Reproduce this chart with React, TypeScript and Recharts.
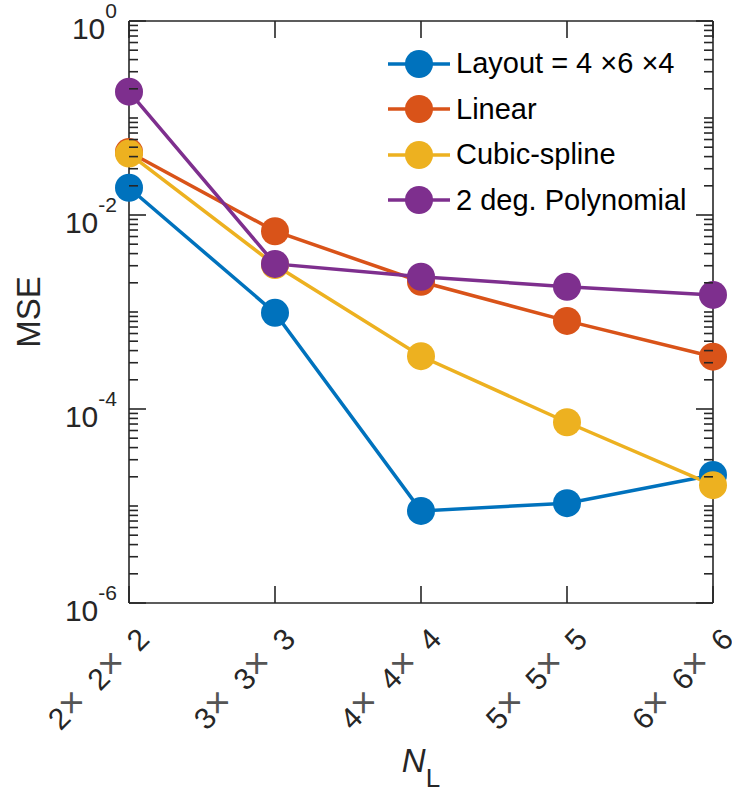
import { LineChart, Line, XAxis, YAxis, Legend, Label } from 'recharts'

const categories = ['2×2×2', '3×3×3', '4×4×4', '5×5×5', '6×6×6']

const seriesNames = ['Layout = 4 ×6 ×4', 'Linear', 'Cubic-spline', '2 deg. Polynomial']
const seriesColors = ['#0072BD', '#D95319', '#EDB120', '#7E2F8E']

const layoutMse = [0.0191, 9.8e-4, 8.9e-6, 1.07e-5, 2.09e-5]
const linearMse = [0.0446, 6.8e-3, 2.05e-3, 8.1e-4, 3.46e-4]
const cubicMse = [0.043, 3.05e-3, 3.5e-4, 7.3e-5, 1.64e-5]
const polyMse = [0.187, 3.13e-3, 2.31e-3, 1.82e-3, 1.5e-3]

const majorTicks = [1, 1e-2, 1e-4, 1e-6]
const majorExponents = ['0', '-2', '-4', '-6']

// minor ticks: every mantissa in every decade, plus the unlabeled odd decades
const minorTicks: number[] = []
for (let d = -6; d < 0; d++) {
	for (let k = 1; k <= 9; k++) {
		if (k === 1 && d % 2 === 0) continue
		minorTicks.push(k * Math.pow(10, d))
	}
}
const yTicks = [...majorTicks, ...minorTicks]

const data = categories.map((name, i) => ({
	name,
	layout: layoutMse[i],
	linear: linearMse[i],
	cubic: cubicMse[i],
	poly: polyMse[i],
}))
const seriesKeys = ['layout', 'linear', 'cubic', 'poly']

const AXIS = '#262626'
const FONT = '"Liberation Sans", Arial, Helvetica, sans-serif'

const tickLen = (v: number) => (majorTicks.includes(v) ? 17 : 9)

const LeftTick = (props: any) => {
	const { x, y, payload } = props
	const idx = majorTicks.indexOf(payload.value)
	return (
		<g>
			<line x1={x} x2={x + tickLen(payload.value)} y1={y} y2={y} stroke={AXIS} strokeWidth={1.6} />
			{idx >= 0 && (
				<text x={x - 12} y={y + 18} textAnchor='end' fill={AXIS} fontSize={30}>
					<tspan>10</tspan>
					<tspan dy={-21} fontSize={21}>{majorExponents[idx]}</tspan>
				</text>
			)}
		</g>
	)
}

const RightTick = (props: any) => {
	const { x, y, payload } = props
	return <line x1={x} x2={x - tickLen(payload.value)} y1={y} y2={y} stroke={AXIS} strokeWidth={1.6} />
}

const BottomTick = (props: any) => {
	const { x, y, payload } = props
	const parts = String(payload.value).split('×')
	const ax = x + 22
	const ay = y + 38
	return (
		<g>
			<line x1={x} x2={x} y1={y} y2={y - 17} stroke={AXIS} strokeWidth={1.6} />
			<text
				x={ax}
				y={ay}
				transform={`rotate(-45, ${ax}, ${ay})`}
				textAnchor='end'
				fill={AXIS}
				fontSize={30}
				style={{ whiteSpace: 'pre' }}
			>
				{parts.map((p, i) => (
					<tspan key={i}>
						{p}
						{i < parts.length - 1 && (
							<>
								<tspan fontSize={38} fill='#555'>
									×
								</tspan>
								<tspan>{'\u00A0\u00A0'}</tspan>
							</>
						)}
					</tspan>
				))}
			</text>
		</g>
	)
}

const TopTick = (props: any) => {
	const { x, y } = props
	return <line x1={x} x2={x} y1={y} y2={y + 17} stroke={AXIS} strokeWidth={1.6} />
}

// legend drawn from the series arrays so it keeps the plotting order
const renderLegend = () => (
	<div>
		{seriesNames.map((name, i) => (
			<div key={name} style={{ display: 'flex', alignItems: 'center', height: 45.5 }}>
				<svg width={64} height={32}>
					<line x1={0} x2={62} y1={16} y2={16} stroke={seriesColors[i]} strokeWidth={3.5} />
					<circle cx={31} cy={16} r={14} fill={seriesColors[i]} />
				</svg>
				<span style={{ marginLeft: 4, fontSize: 29, color: '#000', fontFamily: FONT, whiteSpace: 'pre' }}>{name}</span>
			</div>
		))}
	</div>
)

export default function App() {
	return (
		<div style={{ position: 'absolute', left: 0, top: 0, background: '#fff', fontFamily: FONT }}>
			<LineChart
				width={732}
				height={792}
				data={data}
				margin={{ top: 20, right: 18, bottom: 0, left: 128 }}
				style={{ fontFamily: FONT }}
			>
				<XAxis
					dataKey='name'
					height={189}
					axisLine={{ stroke: AXIS, strokeWidth: 1.6 }}
					tickLine={false}
					tickSize={0}
					tickMargin={0}
					interval={0}
					tick={<BottomTick />}
				>
					<Label
						content={(p: any) => {
							const vb = p.viewBox
							return (
								<text x={vb.x + vb.width / 2} y={vb.y + 169} textAnchor='middle' fill={AXIS} fontSize={33}>
									<tspan fontStyle='italic'>N</tspan>
									<tspan dy={15} fontSize={26}>L</tspan>
								</text>
							)
						}}
					/>
				</XAxis>
				<XAxis
					xAxisId='top'
					orientation='top'
					dataKey='name'
					height={1}
					axisLine={{ stroke: AXIS, strokeWidth: 1.6 }}
					tickLine={false}
					tickSize={0}
					tickMargin={0}
					interval={0}
					tick={<TopTick />}
				/>
				<YAxis
					scale='log'
					type='number'
					domain={[1e-6, 1]}
					allowDataOverflow
					ticks={yTicks}
					interval={0}
					width={1}
					axisLine={{ stroke: AXIS, strokeWidth: 1.6 }}
					tickLine={false}
					tickSize={0}
					tickMargin={0}
					tick={<LeftTick />}
				>
					<Label
						content={(p: any) => {
							const vb = p.viewBox
							const lx = vb.x + vb.width - 89
							const ly = vb.y + vb.height / 2
							return (
								<text x={lx} y={ly} transform={`rotate(-90, ${lx}, ${ly})`} textAnchor='middle' fill={AXIS} fontSize={33}>
									MSE
								</text>
							)
						}}
					/>
				</YAxis>
				<YAxis
					yAxisId='right'
					orientation='right'
					scale='log'
					type='number'
					domain={[1e-6, 1]}
					allowDataOverflow
					ticks={yTicks}
					interval={0}
					width={1}
					axisLine={{ stroke: AXIS, strokeWidth: 1.6 }}
					tickLine={false}
					tickSize={0}
					tickMargin={0}
					tick={<RightTick />}
				/>
				<Legend
					layout='vertical'
					align='center'
					verticalAlign='middle'
					content={renderLegend}
					wrapperStyle={{ top: 41, left: 388, width: 330 }}
				/>
				{seriesKeys.map((key, i) => (
					<Line
						key={key}
						dataKey={key}
						name={seriesNames[i]}
						type='linear'
						stroke={seriesColors[i]}
						strokeWidth={3.5}
						dot={{ r: 14, fill: seriesColors[i], stroke: 'none' }}
						activeDot={false}
						isAnimationActive={false}
					/>
				))}
			</LineChart>
		</div>
	)
}
